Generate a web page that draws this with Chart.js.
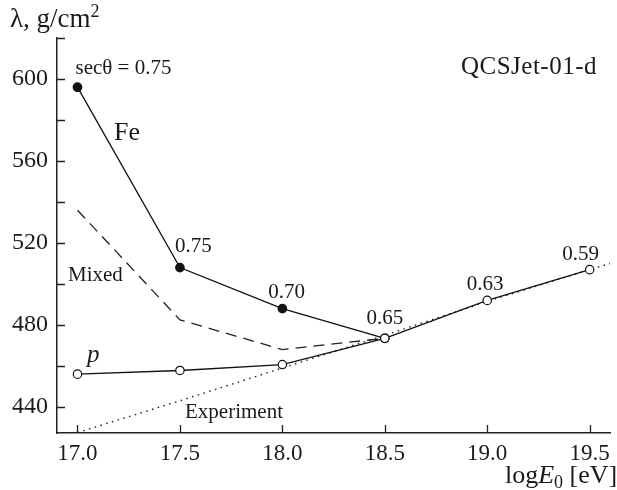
<!DOCTYPE html>
<html>
<head>
<meta charset="utf-8">
<script src="https://cdn.jsdelivr.net/npm/chart.js@4"></script>
<style>
  html, body { margin: 0; padding: 0; background: #fff; }
  #wrap { width: 617px; height: 490px; position: relative; }
</style>
</head>
<body>
<div id="wrap"><canvas id="lambdaChart"></canvas></div>
<script>
// log E0 [eV] and lambda [g/cm^2]
const feEnergy = [17.0, 17.5, 18.0, 18.5];
const feLambda = [596, 508, 488, 473.5];

const pEnergy = [17.0, 17.5, 18.0, 18.5, 19.0, 19.5];
const pLambda = [456, 457.8, 460.7, 473.5, 492, 507];

const mixedEnergy = [17.0, 17.5, 18.0, 18.5];
const mixedLambda = [536, 482.5, 468, 473.5];

const expEnergy = [17.0, 17.5, 18.0, 18.5, 19.0, 19.5, 19.6];
const expLambda = [427.5, 443, 459, 475, 491.5, 507, 510];

// sec(theta) values written next to the points
const secLabels = ['secθ = 0.75', '0.75', '0.70', '0.65', '0.63', '0.59'];

const xTicks = [17.0, 17.5, 18.0, 18.5, 19.0, 19.5];

const FONT = '"Liberation Serif", "Times New Roman", serif';
const toXY = (xs, ys) => xs.map((x, i) => ({ x, y: ys[i] }));

// inward tick marks on both axes
const tickMarks = {
    id: 'tickMarks',
    afterDraw(chart) {
        const { ctx, chartArea, scales } = chart;
        ctx.save();
        ctx.strokeStyle = '#222';
        ctx.lineWidth = 1.3;
        ctx.beginPath();
        scales.y.ticks.forEach(t => {
            const y = Math.round(scales.y.getPixelForValue(t.value)) + 0.5;
            ctx.moveTo(chartArea.left, y);
            ctx.lineTo(chartArea.left + 8, y);
        });
        xTicks.forEach(v => {
            const x = Math.round(scales.x.getPixelForValue(v)) + 0.5;
            ctx.moveTo(x, chartArea.bottom);
            ctx.lineTo(x, chartArea.bottom - 8);
        });
        ctx.stroke();
        ctx.restore();
    }
};

// text labels, axis titles and the run name
const annotations = {
    id: 'annotations',
    afterDraw(chart) {
        const { ctx, scales } = chart;
        const px = v => scales.x.getPixelForValue(v);
        const py = v => scales.y.getPixelForValue(v);
        ctx.save();
        ctx.fillStyle = '#1a1a1a';
        ctx.textBaseline = 'alphabetic';

        // sec(theta) labels above the points
        ctx.font = `21px ${FONT}`;
        ctx.textAlign = 'left';
        ctx.fillText(secLabels[0], px(17.0) - 2, py(feLambda[0]) - 13);
        ctx.fillText(secLabels[1], px(17.5) - 5, py(feLambda[1]) - 16);
        ctx.fillText(secLabels[2], px(18.0) - 14, py(feLambda[2]) - 11);
        ctx.textAlign = 'center';
        ctx.fillText(secLabels[3], px(18.5), py(pLambda[3]) - 14);
        ctx.fillText(secLabels[4], px(19.0) - 2, py(pLambda[4]) - 10);
        ctx.fillText(secLabels[5], px(19.5) - 9, py(pLambda[5]) - 10);

        // curve names
        ctx.textAlign = 'left';
        ctx.font = `26px ${FONT}`;
        ctx.fillText('Fe', 114, 140);
        ctx.font = `21px ${FONT}`;
        ctx.fillText('Mixed', 68, 281);
        ctx.fillText('Experiment', 185, 418);
        ctx.font = `italic 25px ${FONT}`;
        ctx.fillText('p', 87, 362);

        ctx.font = `25px ${FONT}`;
        ctx.letterSpacing = '0.5px';
        ctx.textAlign = 'right';
        ctx.fillText('QCSJet-01-d', 597, 74);
        ctx.letterSpacing = '0px';

        // y axis title
        ctx.textAlign = 'left';
        ctx.font = `27px ${FONT}`;
        const yt = 'λ, g/cm';
        ctx.fillText(yt, 10, 27);
        const w = ctx.measureText(yt).width;
        ctx.font = `18px ${FONT}`;
        ctx.fillText('2', 10 + w, 17);

        // x axis title
        ctx.font = `26px ${FONT}`;
        let x = 505;
        const base = 483;
        ctx.fillText('log', x, base);
        x += ctx.measureText('log').width;
        ctx.font = `italic 26px ${FONT}`;
        ctx.fillText('E', x, base);
        x += ctx.measureText('E').width;
        ctx.font = `18px ${FONT}`;
        ctx.fillText('0', x, base + 5);
        x += ctx.measureText('0').width;
        ctx.font = `26px ${FONT}`;
        ctx.fillText(' [eV]', x, base);
        ctx.restore();
    }
};

// datasets listed top-most first: open p circles sit over the Fe dots
new Chart(document.getElementById('lambdaChart'), {
    type: 'scatter',
    data: {
        datasets: [
            {
                label: 'p',
                data: toXY(pEnergy, pLambda),
                showLine: true,
                borderColor: '#111',
                borderWidth: 1.3,
                pointRadius: 4.2,
                pointBorderWidth: 1.2,
                pointBackgroundColor: '#fff',
                pointBorderColor: '#111'
            },
            {
                label: 'Fe',
                data: toXY(feEnergy, feLambda),
                showLine: true,
                borderColor: '#111',
                borderWidth: 1.3,
                pointRadius: 4.2,
                pointBackgroundColor: '#111',
                pointBorderColor: '#111'
            },
            {
                label: 'Mixed',
                data: toXY(mixedEnergy, mixedLambda),
                showLine: true,
                borderColor: '#222',
                borderWidth: 1.3,
                borderDash: [11, 7],
                pointRadius: 0
            },
            {
                label: 'Experiment',
                data: toXY(expEnergy, expLambda),
                showLine: true,
                borderColor: '#222',
                borderWidth: 1.4,
                borderDash: [1.5, 4.5],
                pointRadius: 0
            }
        ]
    },
    options: {
        responsive: true,
        maintainAspectRatio: false,
        animation: false,
        layout: { padding: { top: 38, right: 1, left: 0, bottom: 0 } },
        plugins: {
            legend: { display: false },
            tooltip: { enabled: false }
        },
        scales: {
            x: {
                type: 'linear',
                min: 16.9,
                max: 19.6,
                afterBuildTicks(scale) {
                    scale.ticks = xTicks.map(v => ({ value: v }));
                },
                afterFit(scale) { scale.height = 57; },
                grid: { display: false, drawTicks: false },
                border: { display: true, color: '#222', width: 1.5 },
                ticks: {
                    padding: 7,
                    color: '#1a1a1a',
                    font: { family: FONT, size: 23 },
                    callback: v => v.toFixed(1)
                }
            },
            y: {
                type: 'linear',
                min: 427.3,
                max: 620,
                afterBuildTicks(scale) {
                    const t = [];
                    for (let v = 440; v <= 620; v += 20) t.push({ value: v });
                    scale.ticks = t;
                },
                afterFit(scale) { scale.width = 57; },
                grid: { display: false, drawTicks: false },
                border: { display: true, color: '#222', width: 1.5 },
                ticks: {
                    padding: 9,
                    color: '#1a1a1a',
                    font: { family: FONT, size: 24 },
                    callback: v => (v % 40 === 0 ? String(v) : '')
                }
            }
        }
    },
    plugins: [tickMarks, annotations]
});
</script>
</body>
</html>
